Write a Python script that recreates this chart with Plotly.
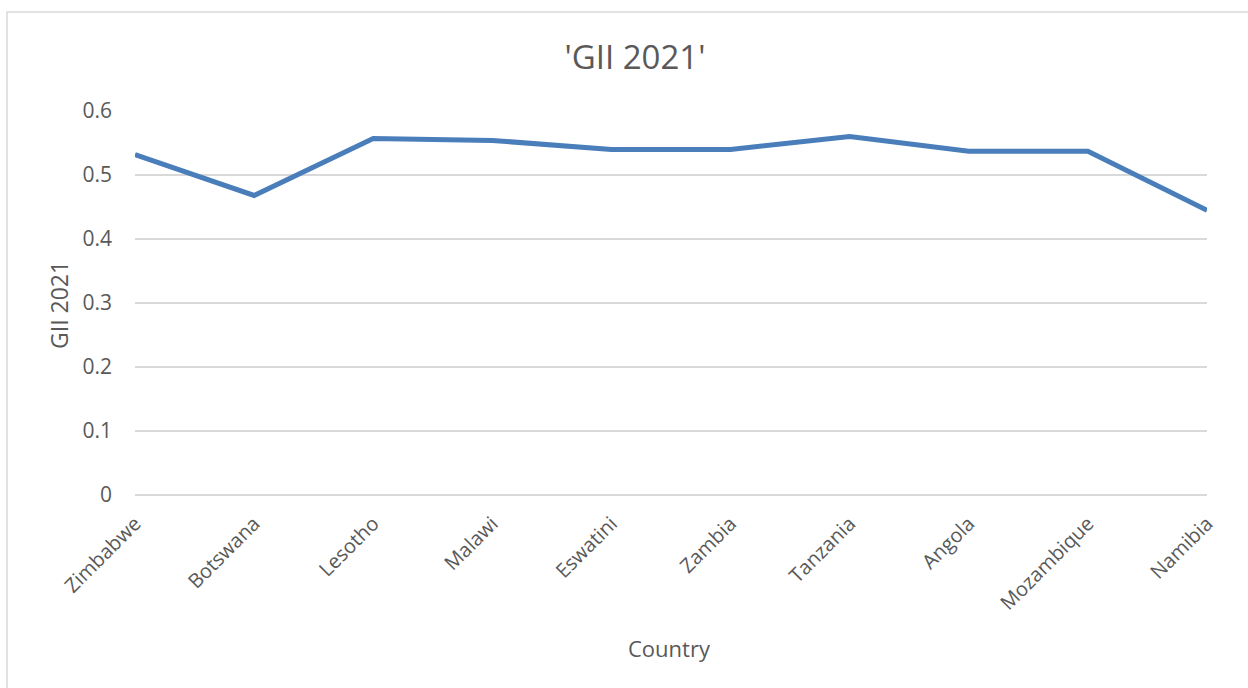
import plotly.graph_objects as go

countries = ["Zimbabwe", "Botswana", "Lesotho", "Malawi", "Eswatini",
             "Zambia", "Tanzania", "Angola", "Mozambique", "Namibia"]
gii_2021 = [0.532, 0.468, 0.557, 0.554, 0.540, 0.540, 0.560, 0.537, 0.537, 0.445]
y_ticks = [0, 0.1, 0.2, 0.3, 0.4, 0.5, 0.6]
y_tick_text = ["0", "0.1", "0.2", "0.3", "0.4", "0.5", "0.6"]

FONT = "Open Sans"
TXT = "#595959"
GRID = "#d9d9d9"

W, H = 1248, 688
L, R, T, B = 135, 1248 - 1207, 111, 688 - 495
pw, ph = W - L - R, H - T - B

fig = go.Figure()
fig.add_trace(go.Scatter(
    x=list(range(len(countries))), y=gii_2021, mode="lines",
    line=dict(color="#4a7ebb", width=5), showlegend=False,
))

fig.update_layout(
    width=W, height=H,
    margin=dict(l=L, r=R, t=T, b=B, autoexpand=False),
    paper_bgcolor="white", plot_bgcolor="white",
    font=dict(family=FONT, color=TXT),
    title=dict(text="'GII 2021'", x=635 / W, xanchor="center",
               y=1 - 57 / H, yanchor="middle",
               font=dict(size=33, color=TXT, family=FONT)),
    xaxis=dict(
        range=[0, len(countries) - 1],
        tickmode="array", tickvals=list(range(len(countries))), ticktext=countries,
        tickangle=-45, tickfont=dict(size=20, color=TXT),
        showgrid=False, zeroline=False, showline=False, ticks="",
        ticklabelstandoff=12,
    ),
    yaxis=dict(
        range=[0, 0.6], tickmode="array", tickvals=y_ticks, ticktext=y_tick_text,
        tickfont=dict(size=21, color=TXT),
        showgrid=True, gridcolor=GRID, gridwidth=1.5,
        zeroline=True, zerolinecolor=GRID, zerolinewidth=1.5,
        showline=False, ticks="", ticklabelstandoff=22,
    ),
    annotations=[
        dict(text="GII 2021", xref="paper", yref="paper",
             x=(59 - L) / pw, y=(495 - 305) / ph, textangle=-90,
             showarrow=False, xanchor="center", yanchor="middle",
             font=dict(size=23, color=TXT)),
        dict(text="Country", xref="paper", yref="paper",
             x=(669 - L) / pw, y=(495 - 648) / ph,
             showarrow=False, xanchor="center", yanchor="middle",
             font=dict(size=22, color=TXT)),
    ],
    shapes=[
        dict(type="rect", xref="paper", yref="paper",
             x0=(7 - L) / pw, x1=(1260 - L) / pw,
             y0=(495 - 700) / ph, y1=(495 - 12) / ph,
             line=dict(color=GRID, width=1.5), fillcolor="rgba(0,0,0,0)",
             layer="below"),
    ],
)

fig.write_html("out.html")
